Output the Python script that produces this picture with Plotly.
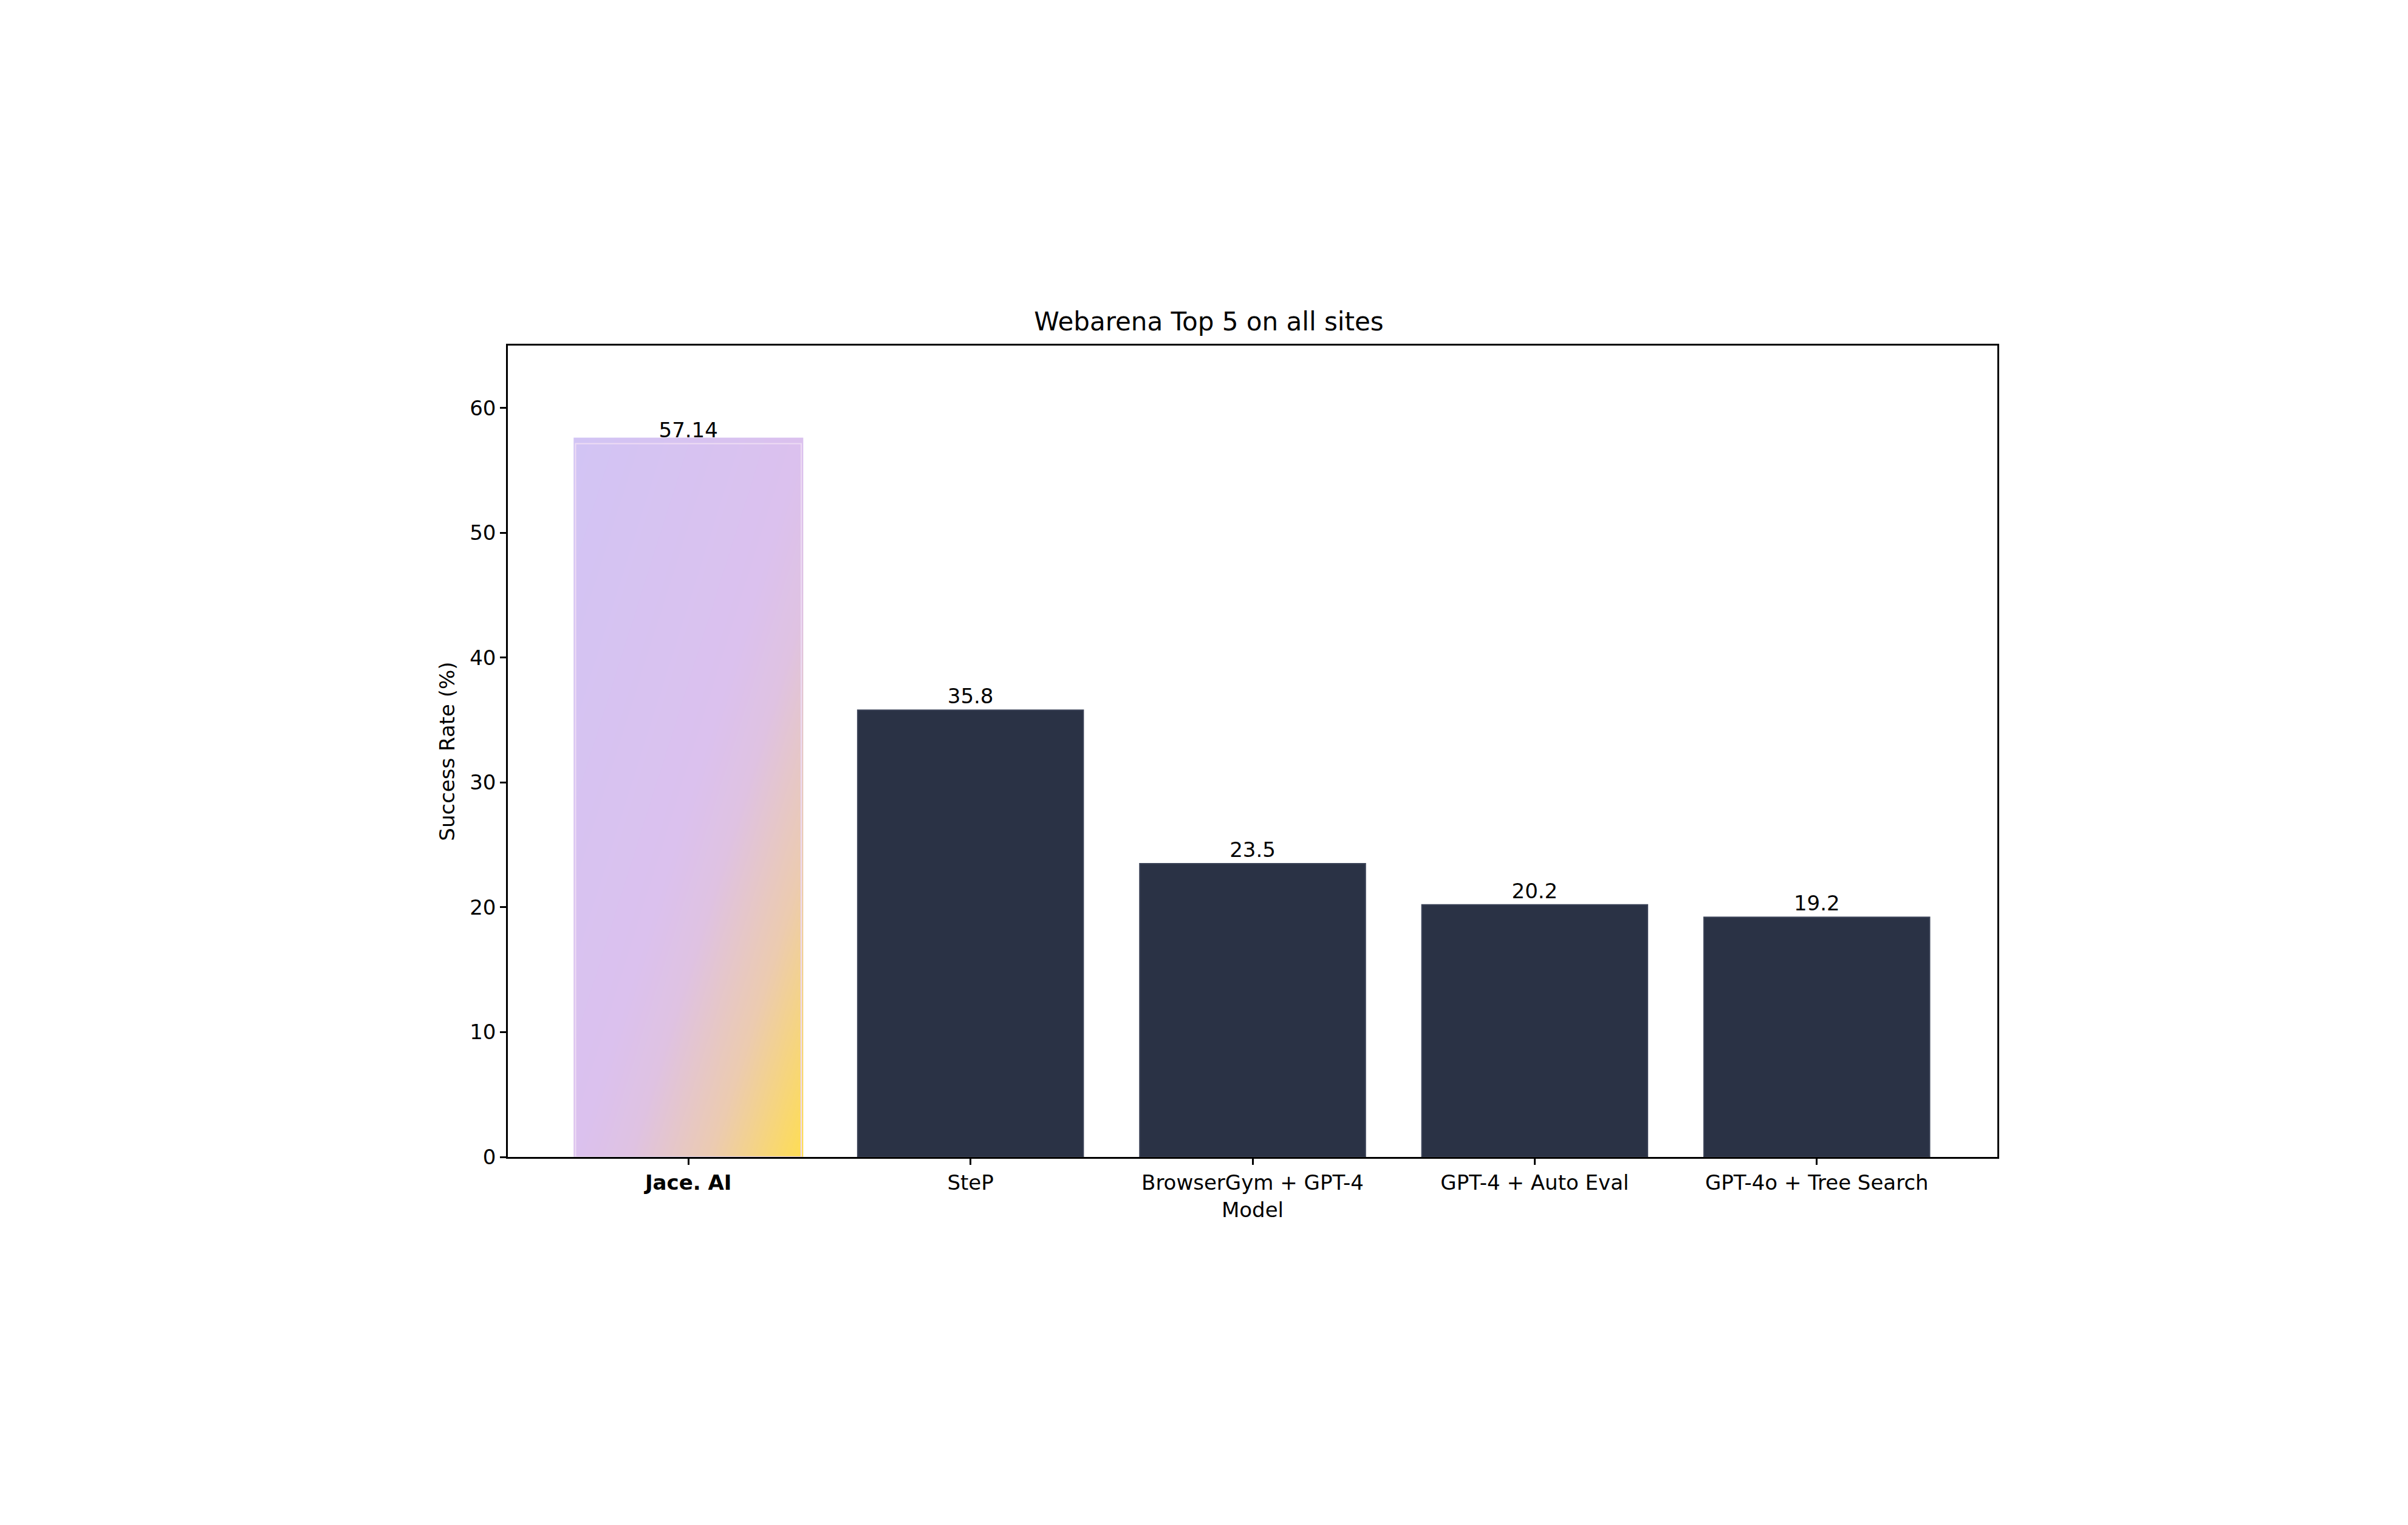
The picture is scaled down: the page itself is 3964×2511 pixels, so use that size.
import numpy as np
import plotly.graph_objects as go

models = ["Jace. AI", "SteP", "BrowserGym + GPT-4", "GPT-4 + Auto Eval", "GPT-4o + Tree Search"]
success = [57.14, 35.8, 23.5, 20.2, 19.2]
value_labels = ["57.14", "35.8", "23.5", "20.2", "19.2"]
y_ticks = [0, 10, 20, 30, 40, 50, 60]

BAR_W = 0.8
DARK = "#2a3245"
FONT = "DejaVu Sans"

x_pos = list(range(len(models)))
tick_text = ["<b>%s</b>" % models[0]] + models[1:]

# diagonal gradient for the highlighted bar: lavender top-left -> yellow bottom-right
n = 60
gx = np.linspace(x_pos[0] - BAR_W / 2, x_pos[0] + BAR_W / 2, n)
gy = np.linspace(0, success[0], n)
u = (gx - gx[0]) / (gx[-1] - gx[0])
v = gy / gy[-1]
z = (u[None, :] + (1 - v[:, None])) / 2

fig = go.Figure()
fig.add_trace(go.Heatmap(
    x=gx, y=gy, z=z, showscale=False, hoverinfo="skip", zsmooth="best",
    colorscale=[[0, "#d2c4f4"], [0.5, "#dbc1ee"], [0.62, "#dfc2e2"],
                [0.8, "#eccbb0"], [1, "#fedd55"]],
))
fig.add_trace(go.Bar(
    x=x_pos, y=success, width=BAR_W,
    marker=dict(color=["rgba(0,0,0,0)"] + [DARK] * 4,
                line=dict(color=["#eedcf4"] + ["#3a4257"] * 4, width=2)),
    text=value_labels, textposition="outside", cliponaxis=False,
    textfont=dict(size=34, color="black", family=FONT),
    showlegend=False,
))

axis_common = dict(showline=True, linecolor="black", linewidth=2.5, mirror=True,
                   ticks="outside", ticklen=10, tickwidth=2.5, tickcolor="black",
                   showgrid=False, zeroline=False,
                   tickfont=dict(size=34, color="black", family=FONT))
fig.update_xaxes(range=[-0.64, 4.64], tickvals=x_pos, ticktext=tick_text,
                 title=dict(text="Model", font=dict(size=34, color="black", family=FONT)),
                 **axis_common)
fig.update_yaxes(range=[0, 65], tickvals=y_ticks,
                 title=dict(text="Success Rate (%)", font=dict(size=34, color="black", family=FONT)),
                 **axis_common)
fig.update_layout(
    width=3964, height=2511,
    margin=dict(l=828, r=684, t=561, b=614),
    paper_bgcolor="white", plot_bgcolor="white",
    title=dict(text="Webarena Top 5 on all sites", x=0.5, xanchor="center",
               y=1 - 521 / 2511, yanchor="middle",
               font=dict(size=42, color="black", family=FONT)),
    uniformtext=dict(mode=False),
)
fig.write_html("out.html")
